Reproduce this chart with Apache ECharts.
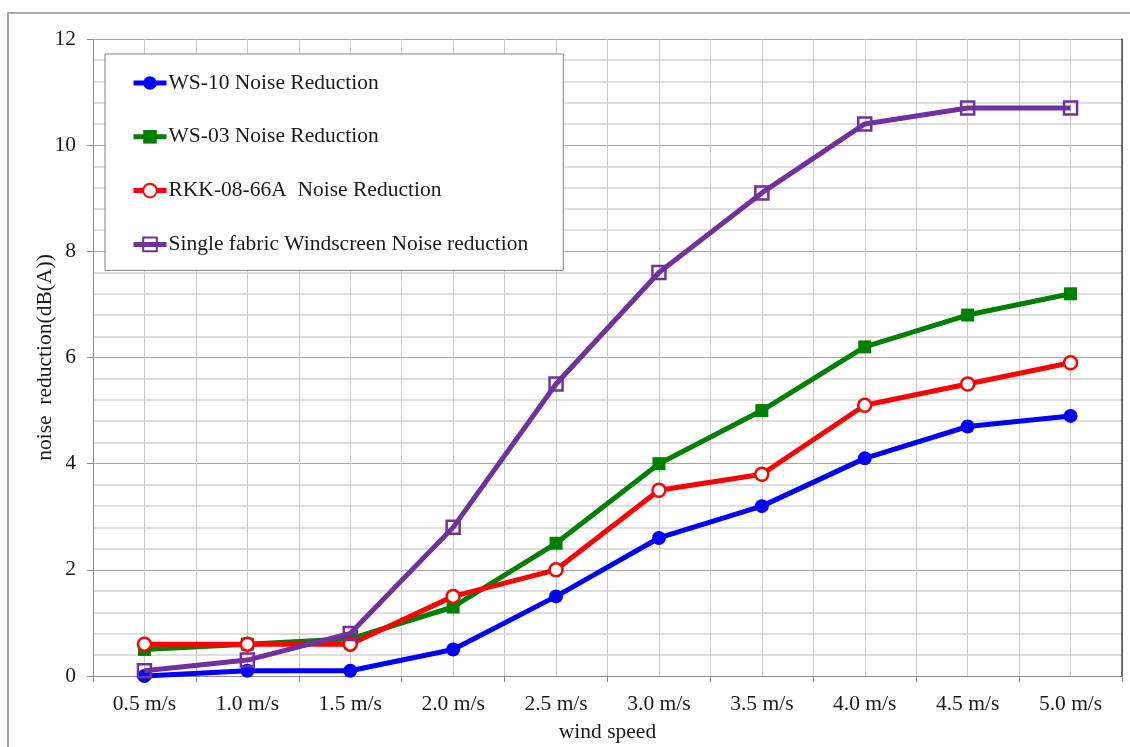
<!DOCTYPE html>
<html>
<head>
<meta charset="utf-8">
<script src="https://cdn.jsdelivr.net/npm/echarts@6/dist/echarts.min.js"></script>
<style>
  html, body { margin: 0; padding: 0; background: #fff; }
  #chart { width: 1130px; height: 747px; }
</style>
</head>
<body>
<div id="chart"></div>
<script>
// Wind speed categories
const windSpeeds = ['0.5 m/s', '1.0 m/s', '1.5 m/s', '2.0 m/s', '2.5 m/s',
                    '3.0 m/s', '3.5 m/s', '4.0 m/s', '4.5 m/s', '5.0 m/s'];

// Noise reduction in dB(A) for each windscreen
const ws10 = [0.0, 0.1, 0.1, 0.5, 1.5, 2.6, 3.2, 4.1, 4.7, 4.9];
const ws03 = [0.5, 0.6, 0.7, 1.3, 2.5, 4.0, 5.0, 6.2, 6.8, 7.2];
const rkk = [0.6, 0.6, 0.6, 1.5, 2.0, 3.5, 3.8, 5.1, 5.5, 5.9];
const singleFabric = [0.1, 0.3, 0.8, 2.8, 5.5, 7.6, 9.1, 10.4, 10.7, 10.7];

const seriesNames = [
  'WS-10 Noise Reduction',
  'WS-03 Noise Reduction',
  'RKK-08-66A  Noise Reduction',
  'Single fabric Windscreen Noise reduction'
];

const FONT = '"Liberation Serif", "Times New Roman", serif';
const TEXT_COLOR = '#1a1a1a';
const FONT_SIZE = 21.5;

const chart = echarts.init(document.getElementById('chart'), null, { renderer: 'canvas' });

chart.setOption({
  animation: false,
  backgroundColor: '#fff',
  textStyle: { fontFamily: FONT },
  graphic: [{
    // outer chart frame
    type: 'rect',
    shape: { x: 8, y: 13, width: 1200, height: 800 },
    style: { fill: 'none', stroke: '#8c8c8c', lineWidth: 1.5 },
    silent: true
  }],
  grid: { left: 93, right: 8, top: 39, bottom: 71, outerBoundsMode: 'none' },
  legend: {
    orient: 'vertical',
    left: 105, top: 54,
    padding: [18, 35, 15, 26],
    itemWidth: 33, itemHeight: 17, itemGap: 31.8,
    backgroundColor: '#fff',
    borderColor: '#808080', borderWidth: 1,
    lineStyle: { width: 5 },
    textStyle: { fontFamily: FONT, fontSize: FONT_SIZE, color: TEXT_COLOR, lineHeight: 20, padding: [0, 0, 0, -3] },
    data: seriesNames
  },
  xAxis: [{
    type: 'category',
    data: windSpeeds,
    boundaryGap: true,
    name: 'wind speed',
    nameLocation: 'middle',
    nameGap: 45,
    nameMoveOverlap: false,
    nameTextStyle: { fontFamily: FONT, fontSize: FONT_SIZE, color: TEXT_COLOR },
    axisLine: { show: true, lineStyle: { color: '#8c8c8c', width: 1 } },
    axisTick: { show: true, alignWithLabel: false, length: 6, lineStyle: { color: '#8c8c8c' } },
    axisLabel: { fontFamily: FONT, fontSize: FONT_SIZE, color: TEXT_COLOR, margin: 17 },
    splitLine: { show: false }
  }, {
    // half-category vertical grid lines
    type: 'value',
    min: 0, max: 20, interval: 1,
    position: 'bottom',
    axisLine: { show: false },
    axisTick: { show: false },
    axisLabel: { show: false },
    splitLine: { show: true, lineStyle: { color: '#c8c8c8', width: 1 } }
  }],
  yAxis: [{
    type: 'value',
    min: 0, max: 12, interval: 2,
    name: 'noise  reduction(dB(A))',
    nameLocation: 'middle',
    nameGap: 37,
    nameRotate: 90,
    nameMoveOverlap: false,
    nameTextStyle: { fontFamily: FONT, fontSize: FONT_SIZE, color: TEXT_COLOR },
    axisLine: { show: true, lineStyle: { color: '#8c8c8c', width: 1 } },
    axisTick: { show: true, length: 6, lineStyle: { color: '#8c8c8c' } },
    axisLabel: { fontFamily: FONT, fontSize: FONT_SIZE, color: TEXT_COLOR, margin: 17 },
    splitLine: { show: true, lineStyle: { color: '#a6a6a6', width: 1 } },
    minorTick: { show: false, splitNumber: 5 },
    minorSplitLine: { show: true, lineStyle: { color: '#d4d4d4', width: 1.5 } }
  }, {
    // right edge of plot area
    type: 'value',
    min: 0, max: 12, interval: 2,
    position: 'right',
    axisLine: { show: true, onZero: false, lineStyle: { color: '#404040', width: 1.5 } },
    axisTick: { show: false },
    axisLabel: { show: false },
    splitLine: { show: false }
  }],
  series: [{
    name: seriesNames[0],
    type: 'line',
    data: ws10,
    symbol: 'circle',
    symbolSize: 14,
    lineStyle: { color: '#0000ff', width: 5 },
    itemStyle: { color: '#0000ff' },
    z: 2
  }, {
    name: seriesNames[1],
    type: 'line',
    data: ws03,
    symbol: 'rect',
    symbolSize: 13,
    lineStyle: { color: '#008000', width: 5 },
    itemStyle: { color: '#008000' },
    z: 3
  }, {
    name: seriesNames[2],
    type: 'line',
    data: rkk,
    symbol: 'circle',
    symbolSize: 13,
    lineStyle: { color: '#ff0000', width: 5 },
    itemStyle: { color: '#ffffff', borderColor: '#ff0000', borderWidth: 2.5 },
    z: 4
  }, {
    name: seriesNames[3],
    type: 'line',
    data: singleFabric,
    symbol: 'rect',
    symbolSize: 13,
    lineStyle: { color: '#7030a0', width: 5 },
    itemStyle: { color: 'rgba(255,255,255,0)', borderColor: '#7030a0', borderWidth: 2.5 },
    z: 5
  }]
});
</script>
</body>
</html>
